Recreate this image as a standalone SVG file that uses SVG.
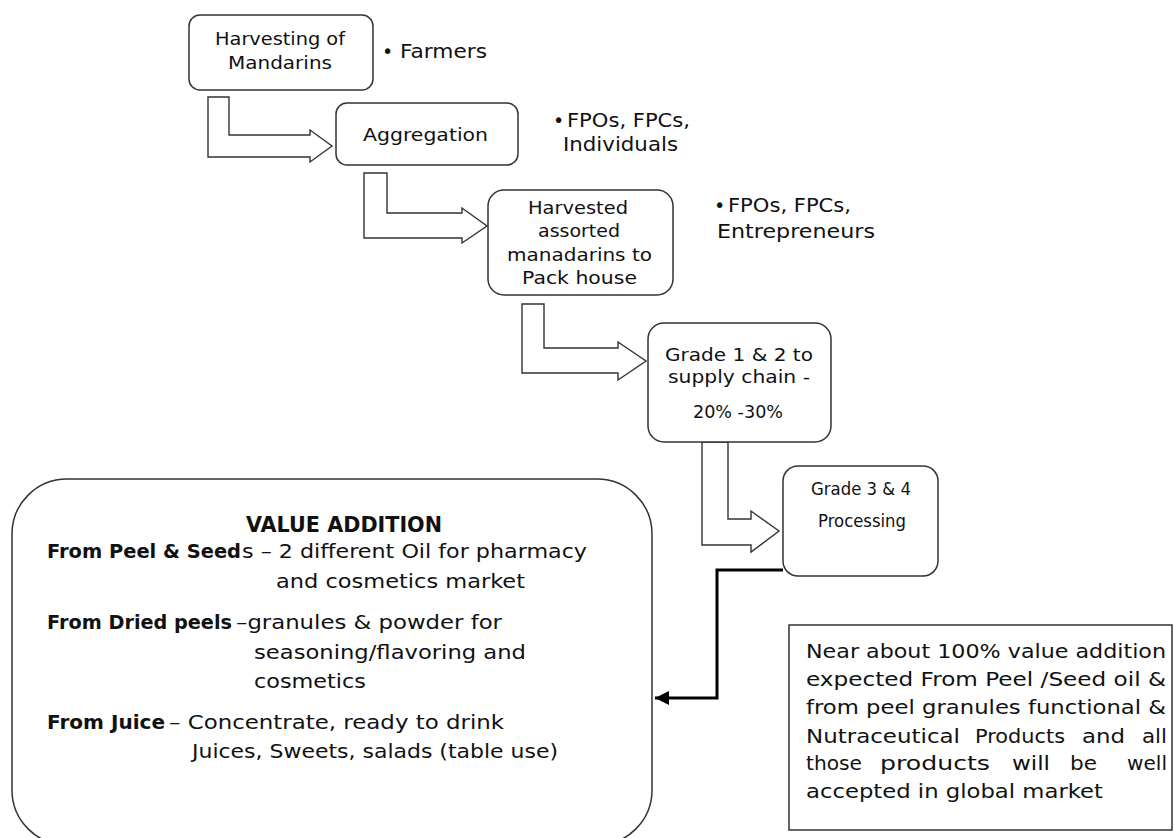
<svg xmlns="http://www.w3.org/2000/svg" width="1174" height="838" viewBox="0 0 1174 838">
<style>
.box{fill:#fff;stroke:#333;stroke-width:1.5}
.arr{fill:#fff;stroke:#333;stroke-width:1.4;stroke-linejoin:miter}
text{font-family:"DejaVu Sans","Liberation Sans",sans-serif;fill:#111}
.t17{font-size:17px}
.t18{font-size:18px}
.t19{font-size:19px}
.t20{font-size:20px}
.b{font-weight:bold}
.c{text-anchor:middle}
.conn{fill:none;stroke:#000;stroke-width:3}
</style>
<defs>
<marker id="ah" markerUnits="userSpaceOnUse" markerWidth="16" markerHeight="14" refX="14" refY="7" orient="auto">
<path d="M0,0 L14,7 L0,14 Z" fill="#000"/>
</marker>
</defs>
<rect width="1174" height="838" fill="#fff"/>

<g id="connectors">
<polygon class="arr" points="208,97 229,97 229,135 310,135 310,130 332,146 310,162 310,157 208,157"/>
<polygon class="arr" points="364,173 387,173 387,213 462,213 462,208 487,226 462,243 462,238 364,238"/>
<polygon class="arr" points="522,304 544,304 544,348 618,348 618,342 646,361 618,380 618,373 522,373"/>
<polygon class="arr" points="702,442 728,442 728,519 751,519 751,511 779,531 751,552 751,545 702,545"/>
<polyline class="conn" points="783,570 717,570 717,698 655,698" marker-end="url(#ah)"/>
</g>

<g id="harvesting">
<rect class="box" x="189" y="15" width="184" height="75" rx="11"/>
<text class="t17 c" x="280" y="45" textLength="130" lengthAdjust="spacingAndGlyphs">Harvesting of</text>
<text class="t17 c" x="280" y="69" textLength="104" lengthAdjust="spacingAndGlyphs">Mandarins</text>
</g>
<g id="farmers">
<text class="t19" x="382" y="58">•</text>
<text class="t19" x="400" y="58" textLength="87" lengthAdjust="spacingAndGlyphs">Farmers</text>
</g>

<g id="aggregation">
<rect class="box" x="336" y="103" width="182" height="62" rx="11"/>
<text class="t18 c" x="425.5" y="141" textLength="125" lengthAdjust="spacingAndGlyphs">Aggregation</text>
</g>
<g id="fpo1">
<text class="t19" x="553" y="127">•</text>
<text class="t19" x="567" y="127" textLength="123" lengthAdjust="spacingAndGlyphs">FPOs, FPCs,</text>
<text class="t19" x="563" y="151" textLength="115" lengthAdjust="spacingAndGlyphs">Individuals</text>
</g>

<g id="packhouse">
<rect class="box" x="488" y="190" width="185" height="105" rx="16"/>
<text class="t18 c" x="578" y="214" textLength="100" lengthAdjust="spacingAndGlyphs">Harvested</text>
<text class="t18 c" x="579" y="237" textLength="82" lengthAdjust="spacingAndGlyphs">assorted</text>
<text class="t18 c" x="579.5" y="261" textLength="145" lengthAdjust="spacingAndGlyphs">manadarins to</text>
<text class="t18 c" x="579.5" y="284" textLength="115" lengthAdjust="spacingAndGlyphs">Pack house</text>
</g>
<g id="fpo2">
<text class="t19" x="714" y="212">•</text>
<text class="t19" x="728" y="212" textLength="123" lengthAdjust="spacingAndGlyphs">FPOs, FPCs,</text>
<text class="t19" x="717" y="238" textLength="158" lengthAdjust="spacingAndGlyphs">Entrepreneurs</text>
</g>

<g id="grade12">
<rect class="box" x="648" y="323" width="183" height="119" rx="16"/>
<text class="t17 c" x="739" y="361" textLength="148" lengthAdjust="spacingAndGlyphs">Grade 1 &amp; 2 to</text>
<text class="t17 c" x="739" y="383" textLength="142" lengthAdjust="spacingAndGlyphs">supply chain -</text>
<text class="t17 c" x="738" y="418" textLength="90" lengthAdjust="spacingAndGlyphs">20% -30%</text>
</g>

<g id="grade34">
<rect class="box" x="783" y="466" width="155" height="110" rx="15"/>
<text class="t17 c" x="861" y="495" textLength="100" lengthAdjust="spacingAndGlyphs">Grade 3 &amp; 4</text>
<text class="t17 c" x="862" y="527" textLength="88" lengthAdjust="spacingAndGlyphs">Processing</text>
</g>

<g id="value-addition">
<rect class="box" x="12" y="479" width="640" height="366" rx="55"/>
<text class="b c" x="344" y="532" font-size="22" textLength="196" lengthAdjust="spacingAndGlyphs">VALUE ADDITION</text>
<text class="t20 b" x="47" y="558" textLength="194" lengthAdjust="spacingAndGlyphs">From Peel &amp; Seed</text>
<text class="t20" x="242" y="558" textLength="345" lengthAdjust="spacingAndGlyphs">s – 2 different Oil for pharmacy</text>
<text class="t20" x="276" y="588" textLength="249" lengthAdjust="spacingAndGlyphs">and cosmetics market</text>
<text class="t20 b" x="47" y="629" textLength="185" lengthAdjust="spacingAndGlyphs">From Dried peels</text>
<text class="t20" x="236" y="629" textLength="266" lengthAdjust="spacingAndGlyphs">–granules &amp; powder for</text>
<text class="t20" x="254" y="659" textLength="272" lengthAdjust="spacingAndGlyphs">seasoning/flavoring and</text>
<text class="t20" x="254" y="688" textLength="112" lengthAdjust="spacingAndGlyphs">cosmetics</text>
<text class="t20 b" x="47" y="729" textLength="118" lengthAdjust="spacingAndGlyphs">From Juice</text>
<text class="t20" x="169" y="729" textLength="335" lengthAdjust="spacingAndGlyphs">– Concentrate, ready to drink</text>
<text class="t20" x="192" y="758" textLength="366" lengthAdjust="spacingAndGlyphs">Juices, Sweets, salads (table use)</text>
</g>

<g id="note">
<rect x="789" y="625" width="383" height="205" fill="#fff" stroke="#333" stroke-width="1.5"/>
<text class="t19" x="806" y="658" textLength="360" lengthAdjust="spacingAndGlyphs">Near about 100% value addition</text>
<text class="t19" x="806" y="686" textLength="360" lengthAdjust="spacingAndGlyphs">expected From Peel /Seed oil &amp;</text>
<text class="t19" x="806" y="714" textLength="360" lengthAdjust="spacingAndGlyphs">from peel granules functional &amp;</text>
<text class="t19" y="743"><tspan x="806" textLength="154" lengthAdjust="spacingAndGlyphs">Nutraceutical</tspan><tspan x="975" textLength="90" lengthAdjust="spacingAndGlyphs">Products</tspan><tspan x="1082" textLength="43" lengthAdjust="spacingAndGlyphs">and</tspan><tspan x="1142" textLength="25" lengthAdjust="spacingAndGlyphs">all</tspan></text>
<text class="t19" y="770"><tspan x="806" textLength="56" lengthAdjust="spacingAndGlyphs">those</tspan><tspan x="880" textLength="110" lengthAdjust="spacingAndGlyphs">products</tspan><tspan x="1012" textLength="38" lengthAdjust="spacingAndGlyphs">will</tspan><tspan x="1070" textLength="27" lengthAdjust="spacingAndGlyphs">be</tspan><tspan x="1127" textLength="40" lengthAdjust="spacingAndGlyphs">well</tspan></text>
<text class="t19" x="806" y="798" textLength="297" lengthAdjust="spacingAndGlyphs">accepted in global market</text>
</g>
</svg>
